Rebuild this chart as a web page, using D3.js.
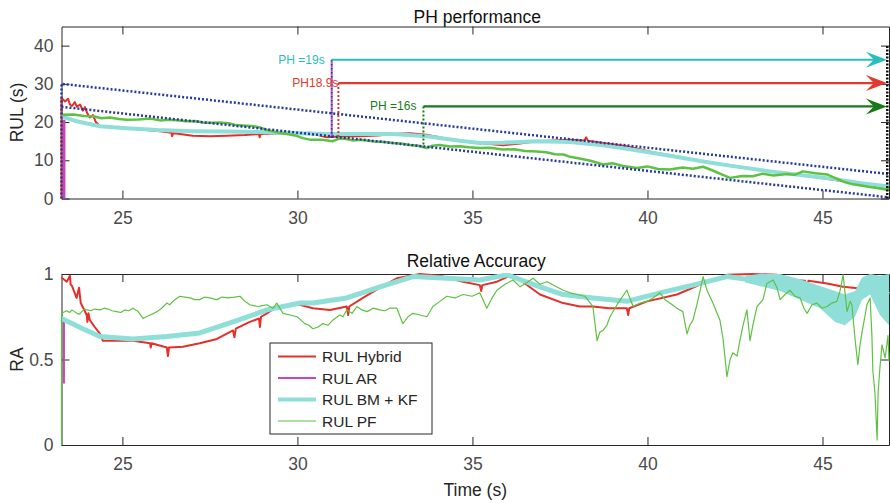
<!DOCTYPE html>
<html>
<head>
<meta charset="utf-8">
<script src="https://cdn.jsdelivr.net/npm/d3@7"></script>
<style>
  body { margin: 0; background: #fff; }
  svg { font-family: "Liberation Sans", Arial, sans-serif; }
  .axis text { font-size: 17.5px; fill: #4a4a4a; }
  .axis path, .axis line { stroke: #262626; }
</style>
</head>
<body>
<div id="chart"></div>
<script>
// ---- data (time in s) ----
const xTicks = [25, 30, 35, 40, 45];
const rulTicks = [0, 10, 20, 30, 40];
const raTicks = [0, 0.5, 1];
const raTickLabels = ["0", "0.5", "1"];

// top panel: RUL estimates
const hybridRul = [[23.26,0],[23.26,26.3],[23.36,25.4],[23.45,26.1],[23.5,24.6],[23.56,24.2],[23.64,25.2],[23.7,24.0],[23.79,24.6],[23.87,23.0],[23.93,23.9],[23.99,22.4],[24.07,21.2],[24.16,21.8],[24.24,20.0],[24.36,18.9],[25.12,18.3],[25.6,18.0],[26.07,17.6],[26.4,17.2],[26.42,16.3],[26.45,17.1],[26.53,17.0],[27.01,16.4],[27.5,16.3],[27.98,16.4],[28.5,16.6],[28.9,16.9],[28.92,16.0],[28.95,16.9],[29.4,17.0],[29.87,17.0],[30.36,17.2],[30.83,16.0],[31.21,16.2],[31.79,16.3],[32.3,16.5],[32.73,16.9],[33.0,17.0],[33.21,17.1],[33.69,16.7],[34.21,15.8],[34.64,15.1],[35.21,14.5],[35.87,13.9],[36.36,14.4],[36.84,15.0],[37.3,15.2],[37.79,15.4],[38.2,15.2],[38.25,16.0],[38.3,15.1],[38.73,14.5],[39.41,13.7],[40.16,12.1],[40.9,10.9],[41.59,9.7],[42.5,8.5],[43.5,7.1],[44.2,6.3],[44.93,5.4],[45.4,4.8],[45.87,4.1],[46.36,3.4],[46.84,2.8],[46.9,2.6]];
const arRul = [[23.33,0],[23.33,20.6]];
const bmkfRul = [[23.27,21.5],[23.69,20.2],[24.36,18.9],[25.12,18.4],[26.0,17.9],[27.01,17.6],[28.0,17.5],[28.93,17.4],[29.9,17.1],[30.84,16.9],[31.8,16.9],[32.73,16.9],[33.7,16.3],[34.64,15.1],[35.21,14.5],[35.87,14.6],[36.84,15.0],[37.79,14.8],[38.73,13.9],[39.5,12.9],[40.16,11.9],[40.9,10.8],[41.59,9.7],[42.5,8.4],[43.5,7.1],[44.5,6.0],[45.41,5.0],[46.1,4.0],[46.84,3.2],[46.9,3.1]];
const pfRul = [[23.26,21.9],[23.6,22.0],[23.9,21.6],[24.16,21.5],[24.4,21.0],[24.64,21.2],[24.9,20.8],[25.13,20.6],[25.45,20.7],[25.79,20.9],[26.1,20.4],[26.3,20.6],[26.56,20.5],[26.8,20.2],[27.07,20.3],[27.3,19.9],[27.5,19.8],[27.8,19.9],[28.07,19.6],[28.25,19.2],[28.44,19.1],[28.7,19.0],[28.93,18.6],[29.1,18.0],[29.41,17.3],[29.7,16.9],[29.93,16.5],[30.15,15.8],[30.36,15.4],[30.7,15.4],[31.01,15.0],[31.2,15.7],[31.36,15.6],[31.6,15.2],[31.79,15.4],[32.2,14.9],[32.5,14.8],[32.73,14.5],[33.0,14.3],[33.21,14.0],[33.45,13.8],[33.7,13.2],[33.85,13.8],[34.07,14.0],[34.35,13.6],[34.64,13.7],[34.9,13.4],[35.21,13.2],[35.5,13.3],[35.87,12.8],[36.2,12.9],[36.5,12.4],[36.84,12.3],[37.1,12.1],[37.36,11.6],[37.6,11.5],[37.79,10.9],[38.1,10.4],[38.4,9.8],[38.73,8.9],[39.0,9.2],[39.3,8.5],[39.7,8.0],[40.0,8.4],[40.3,7.7],[40.64,7.6],[41.0,8.1],[41.3,7.8],[41.59,8.3],[41.9,7.2],[42.1,6.4],[42.36,5.4],[42.7,5.9],[43.01,5.8],[43.3,6.5],[43.6,6.0],[43.99,6.4],[44.2,6.2],[44.44,7.1],[44.8,6.6],[45.13,6.3],[45.4,5.2],[45.6,4.4],[45.87,3.7],[46.1,3.4],[46.36,3.0],[46.6,2.7],[46.84,2.3],[46.9,2.4]];

// alpha bounds and end of life
const upperBound = [[23.26,0],[23.26,30],[46.9,6.4]];
const lowerBound = [[23.26,24],[46.9,0.3]];
const eolLine = [[46.85,0],[46.85,40]];

// prediction horizon markers
const phTimes = [30.98, 31.17, 33.6];
const phLevels = [36.3, 30.2, 24.1];
const phBottoms = [15.9, 15.9, 13.3];
const phLabels = ["PH =19s", "PH18.9s", "PH =16s"];
const phColors = ["#2bbdbd", "#e0392e", "#1a7a1a"];

// bottom panel: relative accuracy
const hybridRa = [[23.26,0.98],[23.41,0.955],[23.5,0.99],[23.52,0.94],[23.56,0.93],[23.69,0.86],[23.76,0.92],[23.81,0.83],[23.98,0.76],[24.0,0.72],[24.03,0.77],[24.07,0.73],[24.21,0.69],[24.36,0.65],[24.44,0.61],[24.8,0.61],[25.3,0.61],[25.79,0.595],[25.81,0.57],[25.83,0.595],[26.27,0.57],[26.3,0.52],[26.33,0.57],[26.73,0.575],[27.21,0.595],[27.7,0.62],[28.16,0.67],[28.2,0.63],[28.24,0.68],[28.64,0.72],[28.9,0.74],[28.93,0.69],[28.96,0.75],[29.13,0.77],[29.41,0.81],[29.8,0.82],[30.07,0.82],[30.44,0.80],[30.93,0.79],[31.41,0.81],[31.45,0.76],[31.48,0.81],[31.87,0.86],[32.36,0.92],[32.84,0.975],[33.5,1.0],[34.07,0.99],[34.73,0.955],[35.21,0.935],[35.25,0.9],[35.28,0.935],[35.7,0.955],[36.07,0.99],[36.36,0.965],[36.93,0.88],[37.59,0.83],[38.07,0.81],[38.44,0.81],[38.9,0.8],[39.41,0.80],[39.45,0.76],[39.48,0.80],[39.99,0.84],[40.84,0.88],[41.59,0.945],[42.27,0.995],[43.0,1.0],[43.7,0.995],[44.16,0.965],[44.5,0.96],[44.55,0.93],[44.6,0.96],[45.13,0.945],[45.59,0.925],[46.07,0.915],[46.56,0.945],[46.9,0.96]];
const arRa = [[23.33,0.36],[23.33,0.72]];
const bmkfRa = [[23.26,0.74],[23.87,0.68],[24.36,0.635],[25.3,0.62],[26.27,0.635],[27.21,0.655],[28.16,0.72],[29.13,0.79],[30.07,0.83],[30.44,0.83],[31.41,0.86],[32.36,0.925],[33.3,0.985],[34.27,0.975],[35.21,0.965],[35.99,0.995],[36.93,0.925],[37.59,0.88],[38.44,0.86],[39.41,0.84],[40.36,0.89],[41.3,0.935],[42.27,0.985],[42.79,0.97],[43.21,0.965],[43.79,0.95],[44.36,0.91],[44.93,0.865],[45.36,0.81],[45.64,0.79],[45.93,0.82],[46.13,0.915],[46.36,0.94],[46.64,0.9],[46.9,0.88]];
const bmkfBandT = [42.79, 43.21, 43.79, 44.36, 44.93, 45.36, 45.64, 45.93, 46.13, 46.36, 46.64, 46.9];
const bmkfBandLo = [0.95, 0.93, 0.90, 0.85, 0.80, 0.72, 0.70, 0.75, 0.85, 0.88, 0.76, 0.70];
const bmkfBandHi = [0.99, 1.0, 1.0, 0.97, 0.93, 0.90, 0.88, 0.90, 0.98, 1.0, 0.99, 1.0];
const pfRa = [[23.26,0],[23.26,0.77],[23.41,0.785],[23.49,0.775],[23.56,0.79],[23.63,0.78],[23.7,0.77],[23.77,0.765],[23.84,0.78],[23.92,0.795],[23.99,0.79],[24.1,0.785],[24.2,0.795],[24.36,0.79],[24.48,0.8],[24.59,0.795],[24.7,0.785],[24.84,0.78],[24.95,0.775],[25.07,0.79],[25.18,0.785],[25.3,0.80],[25.45,0.78],[25.59,0.74],[25.68,0.75],[25.79,0.76],[25.9,0.77],[25.99,0.78],[26.12,0.8],[26.27,0.83],[26.35,0.82],[26.44,0.84],[26.54,0.855],[26.64,0.87],[26.78,0.865],[26.93,0.86],[27.07,0.85],[27.21,0.85],[27.35,0.865],[27.5,0.86],[27.6,0.855],[27.7,0.85],[27.85,0.865],[28.01,0.86],[28.2,0.865],[28.36,0.87],[28.5,0.84],[28.64,0.82],[28.75,0.815],[28.87,0.81],[29.0,0.815],[29.13,0.82],[29.3,0.80],[29.41,0.83],[29.59,0.77],[29.79,0.76],[29.99,0.75],[30.1,0.73],[30.21,0.71],[30.33,0.7],[30.44,0.68],[30.59,0.69],[30.73,0.71],[30.87,0.70],[31.01,0.73],[31.21,0.76],[31.3,0.75],[31.41,0.79],[31.56,0.77],[31.7,0.81],[31.84,0.79],[31.99,0.78],[32.16,0.80],[32.36,0.79],[32.5,0.785],[32.64,0.80],[32.84,0.80],[33.01,0.71],[33.16,0.75],[33.3,0.77],[33.5,0.76],[33.7,0.75],[33.87,0.81],[34.07,0.84],[34.27,0.87],[34.5,0.86],[34.73,0.88],[34.99,0.87],[35.21,0.89],[35.41,0.80],[35.56,0.86],[35.7,0.905],[35.93,0.94],[36.16,0.965],[36.36,0.925],[36.56,0.95],[36.73,0.975],[36.93,0.94],[37.13,0.955],[37.36,0.93],[37.59,0.905],[37.79,0.89],[37.99,0.88],[38.21,0.87],[38.44,0.81],[38.56,0.61],[38.64,0.66],[38.73,0.67],[38.84,0.70],[38.93,0.75],[39.16,0.83],[39.41,0.905],[39.59,0.81],[39.79,0.83],[39.99,0.84],[40.16,0.86],[40.36,0.89],[40.5,0.85],[40.64,0.83],[40.84,0.80],[41.01,0.78],[41.13,0.65],[41.21,0.70],[41.3,0.73],[41.41,0.82],[41.5,0.90],[41.59,0.985],[41.7,0.905],[41.87,0.83],[42.07,0.73],[42.16,0.62],[42.21,0.52],[42.27,0.40],[42.36,0.50],[42.44,0.54],[42.56,0.52],[42.64,0.61],[42.73,0.70],[42.84,0.79],[42.93,0.61],[43.01,0.70],[43.13,0.81],[43.3,0.85],[43.41,0.945],[43.59,0.965],[43.7,0.92],[43.79,0.85],[43.93,0.88],[44.07,0.905],[44.21,0.87],[44.36,0.86],[44.47,0.80],[44.56,0.77],[44.7,0.82],[44.84,0.83],[44.99,0.80],[45.13,0.81],[45.27,0.83],[45.41,0.84],[45.5,0.90],[45.59,0.995],[45.7,0.78],[45.79,0.84],[45.84,0.82],[45.93,0.62],[46.01,0.47],[46.07,0.58],[46.13,0.66],[46.21,0.75],[46.27,0.82],[46.36,0.86],[46.41,0.65],[46.44,0.43],[46.5,0.30],[46.56,0.03],[46.59,0.31],[46.64,0.45],[46.7,0.585],[46.79,0.51],[46.87,0.64],[46.9,0.49]];

const legendNames = ["RUL Hybrid", "RUL AR", "RUL BM + KF", "RUL PF"];

// ---- layout ----
const width = 890, height = 503;
const red = "#e4302a", magenta = "#c946b8", cyan = "#8fded8", green = "#5dc242", blue = "#27399b";

const svg = d3.select("#chart").append("svg")
  .attr("width", width).attr("height", height);

const x = d3.scaleLinear().domain([23.26, 46.9]).range([61.5, 889]);
const yTop = d3.scaleLinear().domain([0, 45]).range([198.5, 26.5]);
const yBot = d3.scaleLinear().domain([0, 1]).range([445, 274]);

function drawAxes(yScale, ticks, labels) {
  const [y0, y1] = yScale.range();
  const g = svg.append("g");
  g.append("g").attr("class", "axis")
    .attr("transform", `translate(0,${y0})`)
    .call(d3.axisBottom(x).tickValues(xTicks).tickSizeInner(-8).tickSizeOuter(0).tickPadding(13)
      .tickFormat(d3.format("d")));
  g.append("g").attr("class", "axis")
    .attr("transform", `translate(0,${y1})`)
    .call(d3.axisTop(x).tickValues(xTicks).tickSizeInner(-8).tickSizeOuter(0).tickFormat(""));
  g.append("g").attr("class", "axis")
    .attr("transform", `translate(${x.range()[0]},0)`)
    .call(d3.axisLeft(yScale).tickValues(ticks).tickSizeInner(-8).tickSizeOuter(0).tickPadding(8)
      .tickFormat((d, i) => labels[i]));
  g.append("g").attr("class", "axis")
    .attr("transform", `translate(${x.range()[1]},0)`)
    .call(d3.axisRight(yScale).tickValues(ticks).tickSizeInner(-8).tickSizeOuter(0).tickFormat(""));
  g.selectAll(".tick text").attr("font-family", "Liberation Sans, Arial, sans-serif");
  return g;
}

drawAxes(yTop, rulTicks, rulTicks.map(String));
drawAxes(yBot, raTicks, raTickLabels);

// clip paths
const defs = svg.append("defs");
[["clipTop", yTop], ["clipBot", yBot]].forEach(([id, s]) => {
  defs.append("clipPath").attr("id", id).append("rect")
    .attr("x", x.range()[0] - 2).attr("width", x.range()[1] - x.range()[0] + 3)
    .attr("y", s.range()[1] - 1).attr("height", s.range()[0] - s.range()[1] + 2);
});

function series(g, yScale, data, color, w, dash) {
  const line = d3.line().x(d => x(d[0])).y(d => yScale(d[1]));
  const p = g.append("path").datum(data)
    .attr("d", line).attr("fill", "none")
    .attr("stroke", color).attr("stroke-width", w)
    .attr("stroke-linejoin", "round");
  if (dash) p.attr("stroke-dasharray", dash);
  return p;
}

// ---- top panel ----
const topG = svg.append("g").attr("clip-path", "url(#clipTop)");
series(topG, yTop, hybridRul, red, 2);
series(topG, yTop, arRul, magenta, 3);
series(topG, yTop, bmkfRul, cyan, 4);
series(topG, yTop, pfRul, green, 2.5);
series(topG, yTop, upperBound, blue, 2.5, "2,2");
series(topG, yTop, lowerBound, blue, 2.5, "2,2");

const ann = svg.append("g");
// end-of-life dotted line
series(ann, yTop, eolLine, "#111", 2.5, "2,1.5");

phTimes.forEach((t, i) => {
  const px = x(t), py = yTop(phLevels[i]), pb = yTop(phBottoms[i]);
  const c = phColors[i];
  if (i === 0) {
    ann.append("line").attr("x1", px).attr("x2", px).attr("y1", py).attr("y2", pb)
      .attr("stroke", blue).attr("stroke-width", 2).attr("stroke-dasharray", "2,2");
    ann.append("line").attr("x1", px).attr("x2", px).attr("y1", py).attr("y2", pb)
      .attr("stroke", magenta).attr("stroke-width", 2).attr("stroke-dasharray", "2,2").attr("stroke-dashoffset", 2);
  } else {
    ann.append("line").attr("x1", px).attr("x2", px).attr("y1", py).attr("y2", pb)
      .attr("stroke", c).attr("stroke-width", 2).attr("stroke-dasharray", "2,2");
  }
  const xe = x(46.84);
  ann.append("line").attr("x1", px).attr("x2", xe - 10).attr("y1", py).attr("y2", py)
    .attr("stroke", c).attr("stroke-width", 2.2);
  ann.append("path")
    .attr("d", `M${xe},${py} L${xe - 21},${py - 8} L${xe - 13},${py} L${xe - 21},${py + 8} Z`)
    .attr("fill", c);
  ann.append("text")
    .attr("x", i === 1 ? px : px - 7).attr("y", py + 4)
    .attr("text-anchor", "end").attr("font-size", 12).attr("fill", c)
    .text(phLabels[i]);
});

// ---- bottom panel ----
const botG = svg.append("g").attr("clip-path", "url(#clipBot)");
series(botG, yBot, hybridRa, red, 2);
series(botG, yBot, arRa, magenta, 2);
botG.append("path")
  .datum(bmkfBandT.map((t, i) => [t, bmkfBandLo[i], bmkfBandHi[i]]))
  .attr("d", d3.area().x(d => x(d[0])).y0(d => yBot(d[1])).y1(d => yBot(d[2])))
  .attr("fill", cyan);
series(botG, yBot, bmkfRa, cyan, 5);
series(botG, yBot, pfRa, green, 1.2);

// ---- titles and labels ----
const cx = (x.range()[0] + x.range()[1]) / 2;
svg.append("text").attr("x", cx + 2).attr("y", 22.5).attr("text-anchor", "middle")
  .attr("font-size", 17.5).attr("fill", "#111").text("PH performance");
svg.append("text").attr("x", cx + 1).attr("y", 267).attr("text-anchor", "middle")
  .attr("font-size", 17.5).attr("fill", "#111").text("Relative Accuracy");
svg.append("text").attr("x", cx).attr("y", 496).attr("text-anchor", "middle")
  .attr("font-size", 17.5).attr("fill", "#262626").text("Time (s)");
svg.append("text").attr("transform", `translate(23,${(yTop.range()[0] + yTop.range()[1]) / 2}) rotate(-90)`)
  .attr("text-anchor", "middle").attr("font-size", 17.5).attr("fill", "#262626").text("RUL (s)");
svg.append("text").attr("transform", `translate(23,${(yBot.range()[0] + yBot.range()[1]) / 2}) rotate(-90)`)
  .attr("text-anchor", "middle").attr("font-size", 17.5).attr("fill", "#262626").text("RA");

// ---- legend ----
const legend = svg.append("g").attr("transform", "translate(270,343)");
legend.append("rect").attr("width", 162).attr("height", 91)
  .attr("fill", "#fff").attr("stroke", "#262626").attr("stroke-width", 1);
const legColors = [red, magenta, cyan, green];
const legWidths = [2, 2, 4, 1.2];
legendNames.forEach((name, i) => {
  const ly = 13.5 + i * 21.5;
  legend.append("line").attr("x1", 8).attr("x2", 46).attr("y1", ly).attr("y2", ly)
    .attr("stroke", legColors[i]).attr("stroke-width", legWidths[i]);
  legend.append("text").attr("x", 52).attr("y", ly + 5.5)
    .attr("font-size", 15.5).attr("fill", "#262626").text(name);
});
</script>
</body>
</html>
